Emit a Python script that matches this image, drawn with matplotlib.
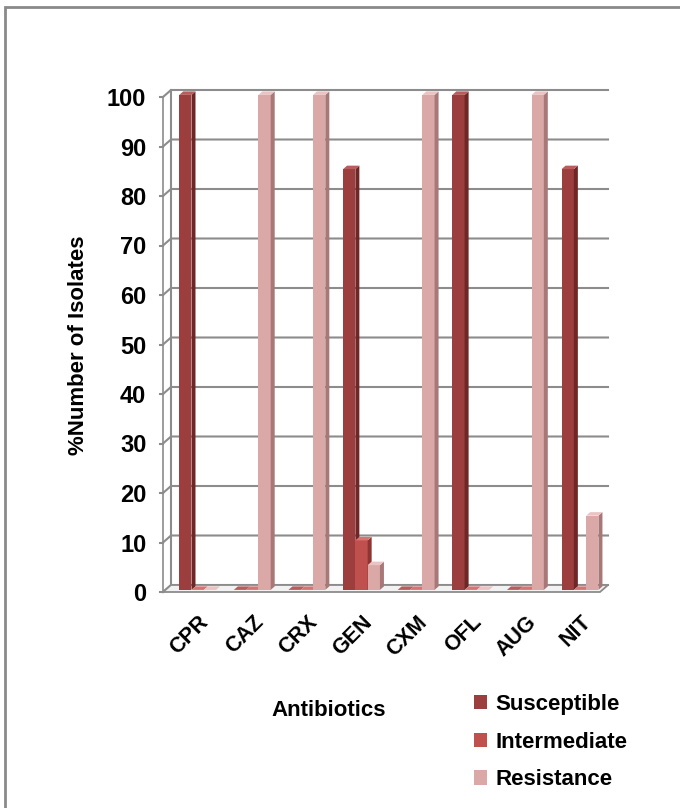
import numpy as np
import matplotlib.pyplot as plt
from matplotlib.patches import Polygon, Rectangle

antibiotics = ['CPR', 'CAZ', 'CRX', 'GEN', 'CXM', 'OFL', 'AUG', 'NIT']
susceptible = [100, 0, 0, 85, 0, 100, 0, 85]
intermediate = [0, 0, 0, 10, 0, 0, 0, 0]
resistance = [0, 100, 100, 5, 100, 0, 100, 15]
series_names = ['Susceptible', 'Intermediate', 'Resistance']
yticks = [0, 10, 20, 30, 40, 50, 60, 70, 80, 90, 100]

colors = ['#9C3E3E', '#C0504D', '#DBA8A8']
sides = ['#6E2626', '#8E3432', '#A87878']
tops = ['#B85C5C', '#D77370', '#EAC3C3']

plt.rcParams['font.family'] = ['Liberation Sans', 'DejaVu Sans']
plt.rcParams['font.weight'] = 'bold'
W, H = 680, 808
fig = plt.figure(figsize=(W / 100, H / 100), dpi=100)

# outer frame (only left and top edges visible)
fig.patches.append(Rectangle((5 / W, -0.5), 3, 1.5 - 7 / H, transform=fig.transFigure,
                             fill=False, edgecolor='#8a8a8a', linewidth=2))

x0, x1, yb, yt = 163, 600, 592, 97
ax = fig.add_axes([x0 / W, 1 - yb / H, (x1 - x0) / W, (yb - yt) / H])
ax.set_xlim(0, 8)
ax.set_ylim(0, 100)
for s in ax.spines.values():
    s.set_visible(False)

# depth offsets in data units
ddx = 8 * 8 / (x1 - x0)
ddy = 7 * 100 / (yb - yt)
grid_c = '#8c8c8c'

# floor
ax.add_patch(Polygon([(0, 0), (8, 0), (8 + ddx, ddy), (ddx, ddy)], closed=True,
                     facecolor='#f2f2f2', edgecolor=grid_c, lw=1.3, clip_on=False, zorder=1))
# back wall lines
for y in yticks:
    ax.plot([0, ddx, 8 + ddx], [y, y + ddy, y + ddy], color=grid_c, lw=1.5,
            clip_on=False, zorder=0.5)
    ax.plot([-0.06, 0], [y, y], color=grid_c, lw=1.5, clip_on=False)
ax.plot([ddx, ddx], [ddy, 100 + ddy], color=grid_c, lw=1.5, clip_on=False, zorder=0.5)
ax.plot([0, 0], [0, 100], color=grid_c, lw=1.2, clip_on=False, zorder=0.5)

bw = 0.225
sdx = 4 * 8 / (x1 - x0)
sdy = 3.5 * 100 / (yb - yt)
offsets = [-bw, 0, bw]
data = [susceptible, intermediate, resistance]
for j in range(3):
    xs = np.arange(len(antibiotics)) + 0.59 + offsets[j] + ddx * 0.3
    bars = ax.bar(xs, data[j], width=bw, bottom=ddy * 0.3, color=colors[j],
                  zorder=3 + j, label=series_names[j], clip_on=False)
    for b in bars:
        bx, by, bwid, bh = b.get_x(), b.get_y(), b.get_width(), b.get_height()
        ax.add_patch(Polygon([(bx + bwid, by), (bx + bwid + sdx, by + sdy),
                              (bx + bwid + sdx, by + bh + sdy), (bx + bwid, by + bh)],
                             closed=True, facecolor=sides[j], edgecolor='none',
                             zorder=3 + j, clip_on=False))
        ax.add_patch(Polygon([(bx, by + bh), (bx + bwid, by + bh),
                              (bx + bwid + sdx, by + bh + sdy), (bx + sdx, by + bh + sdy)],
                             closed=True, facecolor=tops[j], edgecolor='none',
                             zorder=3 + j, clip_on=False))

ax.set_yticks(yticks)
ax.set_yticklabels([str(v) for v in yticks], fontsize=17, fontweight='bold')
ax.tick_params(axis='y', length=0, pad=12)
ax.set_xticks(np.arange(len(antibiotics)) + 0.64)
ax.set_xticklabels(antibiotics, rotation=45, ha='right', rotation_mode='anchor',
                   fontsize=15.5, fontweight='bold')
ax.tick_params(axis='x', length=0, pad=14)

fig.text(78 / W, 1 - 345 / H, '%Number of Isolates', rotation=90, ha='center', va='center',
         fontsize=16, fontweight='bold')
fig.text(329 / W, 1 - 710 / H, 'Antibiotics', ha='center', va='center',
         fontsize=16, fontweight='bold')

handles, labels = ax.get_legend_handles_labels()
fig.legend(handles, labels, loc='upper left', bbox_to_anchor=(454 / W, 1 - 674 / H),
           frameon=False, prop={'weight': 'bold', 'size': 16},
           handlelength=0.6, handleheight=0.6, handletextpad=0.35, labelspacing=0.75)

fig.savefig('out.png', dpi=100)
